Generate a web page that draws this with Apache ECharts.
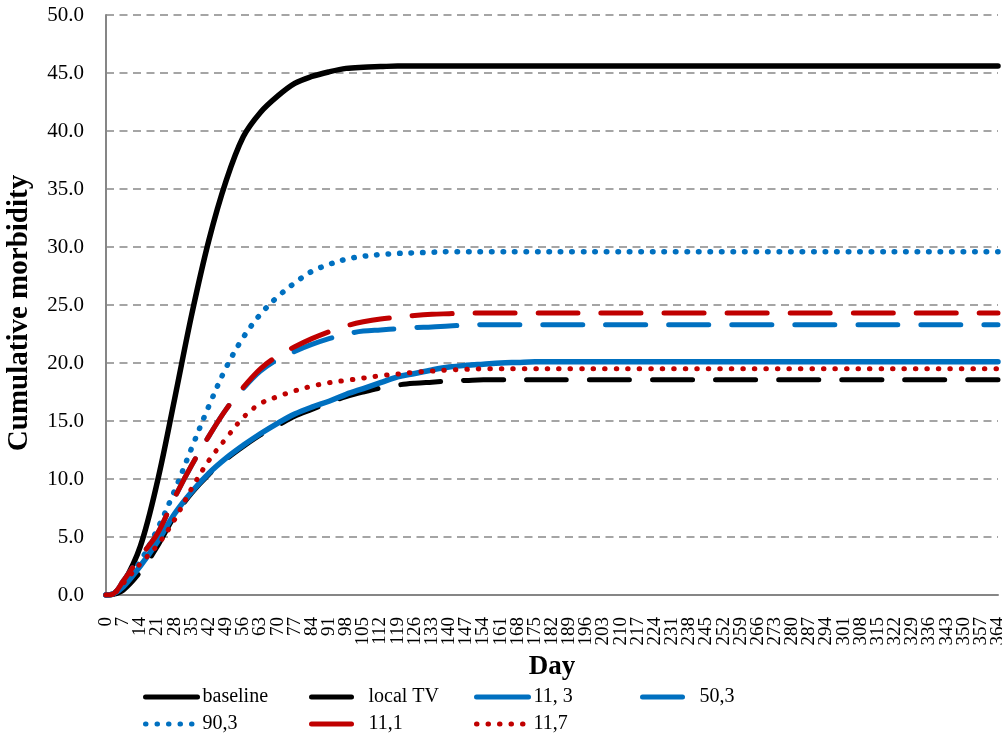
<!DOCTYPE html>
<html>
<head>
<meta charset="utf-8">
<script src="https://cdn.jsdelivr.net/npm/echarts@6/dist/echarts.min.js"></script>
<style>
  html, body { margin: 0; padding: 0; background: #ffffff; }
  #chart { width: 1002px; height: 740px; }
</style>
</head>
<body>
<div id="chart"></div>
<script>
// Day categories 0..364; every 7th one carries a tick label
const dayCategories = Array.from({ length: 365 }, (_, d) => String(d));
const LABEL_STEP = 7;

// Sampled days (weekly, plus day 3 for the slow start; flat tail to day 364)
const days = [0, 3, 7, 14, 21, 28, 35, 42, 49, 56, 63, 70, 77, 84, 91, 98, 105, 112, 119,
              126, 133, 140, 147, 154, 161, 168, 175, 182, 364];

// Cumulative morbidity per scenario
const baseline = [0, 0.1, 1.0, 4.2, 9.8, 16.9, 24.2, 30.6, 35.7, 39.5, 41.6, 43.0, 44.1, 44.7, 45.1, 45.4, 45.5, 45.55, 45.6,
                  45.6, 45.6, 45.6, 45.6, 45.6, 45.6, 45.6, 45.6, 45.6, 45.6];
const localTV  = [0, 0.05, 0.4, 2.0, 4.2, 6.8, 8.8, 10.4, 11.7, 12.8, 13.8, 14.6, 15.4, 16.0, 16.6, 17.1, 17.5, 17.85, 18.1,
                  18.25, 18.35, 18.45, 18.5, 18.55, 18.55, 18.55, 18.55, 18.55, 18.55];
const s11_3    = [0, 0.1, 0.7, 2.5, 4.6, 7.0, 8.9, 10.5, 11.8, 12.9, 13.9, 14.8, 15.6, 16.2, 16.7, 17.3, 17.8, 18.3, 18.8,
                  19.1, 19.4, 19.65, 19.8, 19.9, 20.0, 20.05, 20.1, 20.1, 20.1];
const s50_3    = [0, 0.1, 1.2, 3.3, 5.3, 8.4, 11.2, 13.7, 16.0, 17.8, 19.3, 20.3, 21.0, 21.6, 22.1, 22.5, 22.75, 22.85, 22.95,
                  23.05, 23.1, 23.2, 23.25, 23.3, 23.3, 23.3, 23.3, 23.3, 23.3];
const s90_3    = [0, 0.1, 0.9, 2.9, 5.7, 9.0, 12.7, 16.3, 19.6, 22.2, 24.2, 25.7, 26.9, 27.9, 28.5, 28.95, 29.2, 29.35, 29.45,
                  29.5, 29.55, 29.6, 29.6, 29.6, 29.6, 29.6, 29.6, 29.6, 29.6];
const s11_1    = [0, 0.1, 1.2, 3.3, 5.3, 8.4, 11.2, 13.7, 16.0, 17.9, 19.5, 20.6, 21.4, 22.1, 22.7, 23.2, 23.55, 23.8, 23.95,
                  24.1, 24.2, 24.25, 24.3, 24.3, 24.3, 24.3, 24.3, 24.3, 24.3];
const s11_7    = [0, 0.1, 1.0, 2.7, 4.3, 6.5, 9.2, 11.6, 13.5, 15.3, 16.5, 17.1, 17.6, 18.0, 18.3, 18.5, 18.7, 18.9, 19.05,
                  19.2, 19.3, 19.4, 19.45, 19.5, 19.5, 19.5, 19.5, 19.5, 19.5];

const seriesNames = ['baseline', 'local TV', '11, 3', '50,3', '90,3', '11,1', '11,7'];

const FONT = 'Liberation Serif';
const BLACK = '#000000', BLUE = '#0070C0', RED = '#C00000';
const DASH = [40, 23];
const DOT = [0.5, 11];

function pairs(values) {
  return days.map((d, i) => [d, values[i]]);
}

function line(name, values, color, width, type) {
  return {
    name: name,
    type: 'line',
    data: pairs(values),
    smooth: 0.35,
    symbol: 'none',
    showSymbol: false,
    animation: false,
    lineStyle: { color: color, width: width, type: type, cap: 'round', join: 'round' },
    itemStyle: { color: color }
  };
}

// Legend laid out as a 4-column grid, one legend block per entry
const legendCols = [143, 309, 474, 640];
const legendRows = [687, 714];
const legends = seriesNames.map((name, i) => ({
  data: [name],
  left: legendCols[i % 4],
  top: legendRows[Math.floor(i / 4)],
  itemWidth: 52,
  itemHeight: 20,
  padding: 0,
  itemStyle: { color: 'transparent', borderColor: 'transparent', borderWidth: 0 },
  lineStyle: { width: 5 },
  textStyle: { fontFamily: FONT, fontSize: 20, color: '#000' }
}));

const chart = echarts.init(document.getElementById('chart'), null, { renderer: 'canvas' });
chart.setOption({
  backgroundColor: '#ffffff',
  animation: false,
  grid: { left: 106, right: 4, top: 15, bottom: 145, containLabel: false, outerBoundsMode: 'none' },
  legend: legends,
  xAxis: {
    type: 'category',
    data: dayCategories,
    boundaryGap: false,
    name: 'Day',
    nameLocation: 'middle',
    nameGap: 54,
    nameTextStyle: { fontFamily: FONT, fontSize: 27, fontWeight: 'bold', color: '#000' },
    axisLine: { show: true, lineStyle: { color: '#868686', width: 2 } },
    axisTick: { show: false },
    splitLine: { show: false },
    axisLabel: {
      // every category gets a label slot; only each 7th day is written
      interval: 0,
      formatter: (value, index) => (index % LABEL_STEP === 0 ? value : ''),
      rotate: 90, margin: 22, fontFamily: FONT, fontSize: 19, color: '#000'
    }
  },
  yAxis: {
    type: 'value',
    min: 0,
    max: 50,
    interval: 5,
    name: 'Cumulative morbidity',
    nameLocation: 'middle',
    nameGap: 72,
    nameRotate: 90,
    nameTextStyle: { fontFamily: FONT, fontSize: 29, fontWeight: 'bold', color: '#000', padding: [0, 16, 0, 0] },
    axisLine: { show: true, lineStyle: { color: '#868686', width: 2 } },
    axisTick: { show: false },
    splitLine: { show: true, lineStyle: { color: '#888888', width: 1.5, type: [8, 5.5] } },
    axisLabel: {
      margin: 22,
      fontFamily: FONT,
      fontSize: 21,
      color: '#000',
      formatter: v => v.toFixed(1)
    }
  },
  series: [
    line(seriesNames[0], baseline, BLACK, 5.5, 'solid'),
    line(seriesNames[1], localTV, BLACK, 5, DASH),
    line(seriesNames[2], s11_3, BLUE, 5.5, 'solid'),
    line(seriesNames[3], s50_3, BLUE, 5, DASH),
    line(seriesNames[4], s90_3, BLUE, 5.5, DOT),
    line(seriesNames[5], s11_1, RED, 5, DASH),
    line(seriesNames[6], s11_7, RED, 5, DOT)
  ]
});
</script>
</body>
</html>
